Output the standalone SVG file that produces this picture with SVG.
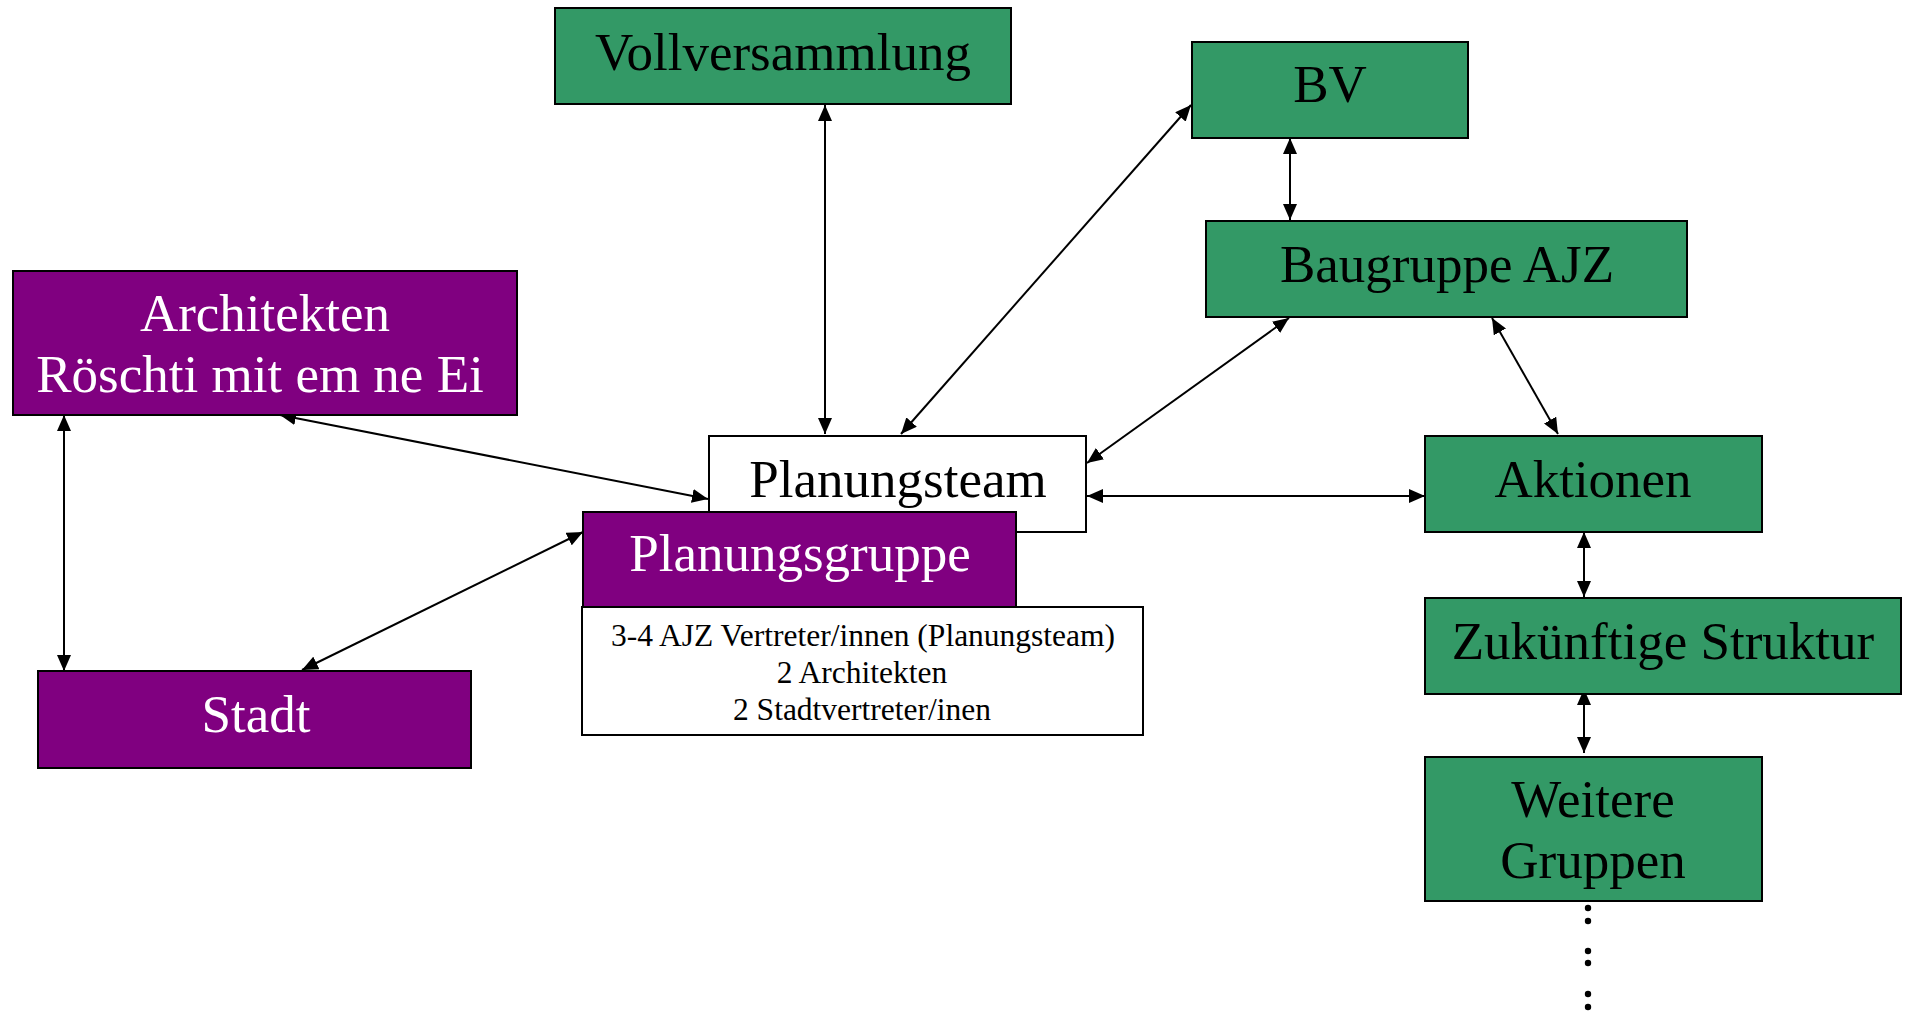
<svg xmlns="http://www.w3.org/2000/svg" width="1905" height="1011" viewBox="0 0 1905 1011">
<style>
.g{fill:#339966;stroke:#000;stroke-width:2}
.p{fill:#800080;stroke:#000;stroke-width:2}
.w{fill:#fff;stroke:#000;stroke-width:2}
text{font-family:"Liberation Serif","Times New Roman",serif;text-anchor:middle}
.t{font-size:53px;fill:#000}
.tw{font-size:53px;fill:#fff}
.s{font-size:31.5px;fill:#000}
#connectors line{stroke:#000;stroke-width:2;marker-start:url(#ah);marker-end:url(#ah)}
</style>
<defs>
<marker id="ah" markerUnits="userSpaceOnUse" markerWidth="16" markerHeight="14" refX="16" refY="7" orient="auto-start-reverse">
<path d="M0,0 L16,7 L0,14 z" fill="#000"/>
</marker>
</defs>
<rect width="1905" height="1011" fill="#fff"/>
<g id="connectors">
<line x1="825" y1="105" x2="825" y2="434"/>
<line x1="1191" y1="105" x2="901" y2="434"/>
<line x1="1290" y1="138" x2="1290" y2="220"/>
<line x1="1289" y1="318" x2="1087" y2="463"/>
<line x1="1492" y1="318" x2="1558" y2="434"/>
<line x1="1087" y1="496" x2="1425" y2="496"/>
<line x1="1584" y1="532" x2="1584" y2="597"/>
<line x1="1584" y1="689" x2="1584" y2="753"/>
<line x1="280" y1="415" x2="708" y2="499"/>
<line x1="64" y1="415" x2="64" y2="671"/>
<line x1="302" y1="670" x2="583" y2="532"/>
</g>
<g id="vollversammlung"><rect class="g" x="555" y="8" width="456" height="96"/><text class="t" x="783" y="70">Vollversammlung</text></g>
<g id="bv"><rect class="g" x="1192" y="42" width="276" height="96"/><text class="t" x="1330" y="102">BV</text></g>
<g id="baugruppe"><rect class="g" x="1206" y="221" width="481" height="96"/><text class="t" x="1447" y="282">Baugruppe AJZ</text></g>
<g id="architekten"><rect class="p" x="13" y="271" width="504" height="144"/><text class="tw" x="265" y="331">Architekten</text><text class="tw" x="260" y="392">Röschti mit em ne Ei</text></g>
<g id="planungsteam"><rect class="w" x="709" y="436" width="377" height="96"/><text class="t" x="898" y="497">Planungsteam</text></g>
<g id="aktionen"><rect class="g" x="1425" y="436" width="337" height="96"/><text class="t" x="1593" y="497">Aktionen</text></g>
<g id="planungsgruppe"><rect class="p" x="583" y="512" width="433" height="95"/><text class="tw" x="800" y="571">Planungsgruppe</text></g>
<g id="info"><rect class="w" x="582" y="607" width="561" height="128"/><text class="s" x="863" y="646">3-4 AJZ Vertreter/innen (Planungsteam)</text><text class="s" x="862" y="683">2 Architekten</text><text class="s" x="862" y="720">2 Stadtvertreter/inen</text></g>
<g id="stadt"><rect class="p" x="38" y="671" width="433" height="97"/><text class="tw" x="256" y="732">Stadt</text></g>
<g id="zukunft"><rect class="g" x="1425" y="598" width="476" height="96"/><text class="t" x="1663" y="659">Zukünftige Struktur</text></g>
<g id="weitere"><rect class="g" x="1425" y="757" width="337" height="144"/><text class="t" x="1593" y="817">Weitere</text><text class="t" x="1593" y="878">Gruppen</text></g>
<g id="dots" fill="#000"><circle cx="1588" cy="908" r="3.2"/><circle cx="1588" cy="921" r="3.2"/><circle cx="1588" cy="951" r="3.2"/><circle cx="1588" cy="963" r="3.2"/><circle cx="1588" cy="994" r="3.2"/><circle cx="1588" cy="1007" r="3.2"/></g>
</svg>
